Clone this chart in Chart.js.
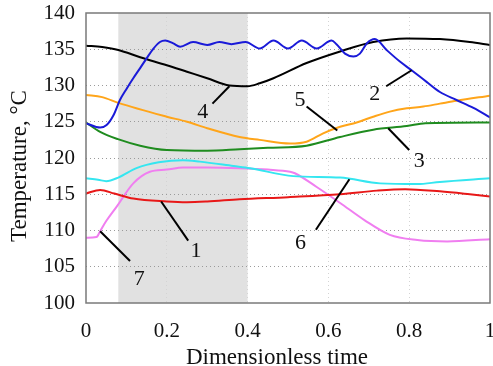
<!DOCTYPE html>
<html><head><meta charset="utf-8">
<script src="https://cdn.jsdelivr.net/npm/chart.js@4/dist/chart.umd.min.js"></script>
<style>html,body{margin:0;padding:0;background:#fff}#wrap{width:493px;height:366px}</style>
</head><body><div id="wrap"><canvas id="c" width="493" height="366"></canvas></div>
<script>
// ---- data ----
const xTicks = [0, 0.2, 0.4, 0.6, 0.8, 1];
const xTickLabels = ["0", "0.2", "0.4", "0.6", "0.8", "1"];
const yTicks = [100, 105, 110, 115, 120, 125, 130, 135, 140];
const shadeRange = [0.08, 0.4];

const c1T = [0, 0.035, 0.07, 0.117, 0.2, 0.25, 0.3, 0.38, 0.5, 0.629, 0.72, 0.79, 0.876, 0.95, 1];
const c1Y = [115.1, 115.6, 115.1, 114.4, 114.0, 113.9, 114.0, 114.3, 114.6, 115.0, 115.5, 115.7, 115.4, 115.0, 114.7];

const c2T = [0, 0.035, 0.051, 0.068, 0.084, 0.101, 0.117, 0.134, 0.15, 0.167, 0.183, 0.196, 0.216, 0.233, 0.265, 0.30, 0.33, 0.36, 0.395, 0.43, 0.464, 0.50, 0.534, 0.571, 0.608, 0.62, 0.641, 0.662, 0.678, 0.695, 0.715, 0.744, 0.777, 0.806, 0.843, 0.876, 0.917, 0.959, 1];
const c2Y = [124.8, 124.2, 124.55, 125.9, 128.0, 129.6, 131.0, 132.4, 133.75, 135.1, 136.0, 136.2, 135.8, 135.35, 136.0, 135.6, 136.0, 135.7, 136.0, 135.1, 136.2, 135.1, 136.2, 135.1, 136.2, 135.7, 134.4, 134.0, 134.4, 135.8, 136.4, 134.9, 133.3, 132.1, 130.5, 129.1, 128.0, 126.9, 125.6];

const c3T = [0, 0.035, 0.079, 0.134, 0.2, 0.3, 0.38, 0.45, 0.546, 0.629, 0.711, 0.794, 0.84, 1];
const c3Y = [124.9, 123.6, 122.6, 121.7, 121.1, 121.0, 121.2, 121.4, 121.7, 122.9, 123.9, 124.4, 124.8, 124.9];

const c4T = [0, 0.04, 0.08, 0.134, 0.2, 0.25, 0.3, 0.355, 0.40, 0.43, 0.464, 0.546, 0.629, 0.711, 0.794, 0.876, 0.95, 1];
const c4Y = [135.5, 135.3, 134.9, 133.9, 132.8, 131.9, 131.0, 130.0, 129.9, 130.3, 131.0, 133.1, 134.7, 136.0, 136.5, 136.4, 136.0, 135.6];

const c5T = [0, 0.04, 0.08, 0.2, 0.25, 0.3, 0.38, 0.43, 0.505, 0.546, 0.587, 0.629, 0.67, 0.711, 0.752, 0.794, 0.835, 0.876, 0.917, 1];
const c5Y = [128.7, 128.4, 127.6, 125.7, 125.0, 124.1, 122.9, 122.5, 122.0, 122.25, 123.4, 124.3, 124.9, 125.7, 126.4, 126.85, 127.1, 127.5, 127.9, 128.6];

const c6T = [0, 0.03, 0.05, 0.08, 0.125, 0.18, 0.24, 0.282, 0.365, 0.406, 0.513, 0.629, 0.728, 0.82, 0.876, 1];
const c6Y = [117.2, 117.0, 116.8, 117.3, 118.6, 119.4, 119.7, 119.5, 118.9, 118.6, 117.5, 117.3, 116.5, 116.4, 116.7, 117.2];

const c7T = [0, 0.026, 0.035, 0.05, 0.076, 0.117, 0.158, 0.2, 0.24, 0.3, 0.38, 0.45, 0.505, 0.517, 0.571, 0.629, 0.69, 0.752, 0.82, 0.894, 1];
const c7Y = [109.0, 109.1, 109.9, 111.3, 113.3, 116.5, 118.1, 118.4, 118.7, 118.7, 118.6, 118.4, 118.1, 117.9, 116.0, 113.8, 111.4, 109.4, 108.7, 108.5, 108.8];

// curve number labels and their leader lines (data coordinates)
const labelNames = ["1", "2", "3", "4", "5", "6", "7"];
const labelLineFrom = [[0.186, 114.0], [0.806, 132.1], [0.748, 124.1], [0.355, 129.9], [0.546, 127.1], [0.652, 117.06], [0.035, 109.9]];
const labelLineTo = [[0.253, 108.6], [0.743, 129.9], [0.80, 121.1], [0.313, 127.5], [0.622, 123.8], [0.569, 110.1], [0.109, 105.8]];
const labelTextAt = [[0.272, 107.1], [0.715, 128.8], [0.825, 119.5], [0.289, 126.25], [0.53, 128.0], [0.531, 108.3], [0.132, 103.3]];

const xTitle = "Dimensionless time";
const yTitle = "Temperature, \u00B0C";

// ---- build ----
function pts(t, y) { return t.map((v, i) => ({ x: v, y: y[i] })); }
const series = [
  { T: c1T, Y: c1Y, color: "#e81818" },
  { T: c2T, Y: c2Y, color: "#1a1ad8" },
  { T: c3T, Y: c3Y, color: "#1f8c1f" },
  { T: c4T, Y: c4Y, color: "#000000" },
  { T: c5T, Y: c5Y, color: "#ffa51a" },
  { T: c6T, Y: c6Y, color: "#35e6f0" },
  { T: c7T, Y: c7Y, color: "#f07ef0" }
];
const FONT = '"Liberation Serif", "Times New Roman", serif';

const deco = {
  id: "deco",
  beforeDraw(chart) {
    const { ctx, chartArea: a, scales: { x } } = chart;
    ctx.save();
    ctx.fillStyle = "#e1e1e1";
    const x0 = x.getPixelForValue(shadeRange[0]), x1 = x.getPixelForValue(shadeRange[1]);
    ctx.fillRect(x0, a.top, x1 - x0, a.bottom - a.top);
    ctx.restore();
  },
  afterDraw(chart) {
    const { ctx, chartArea: a, scales: { x, y } } = chart;
    ctx.save();
    // frame
    ctx.strokeStyle = "#7a7a7a";
    ctx.lineWidth = 1.5;
    ctx.strokeRect(a.left, a.top, a.right - a.left, a.bottom - a.top);
    // tick labels
    ctx.fillStyle = "#111";
    ctx.font = "21px " + FONT;
    ctx.textBaseline = "middle";
    ctx.textAlign = "right";
    yTicks.forEach(v => ctx.fillText(String(v), a.left - 11, y.getPixelForValue(v)));
    ctx.textAlign = "center";
    xTicks.forEach((v, i) => ctx.fillText(xTickLabels[i], x.getPixelForValue(v), a.bottom + 28));
    // titles
    ctx.font = "23px " + FONT;
    ctx.textBaseline = "alphabetic";
    ctx.fillText(xTitle, 277, 364);
    ctx.save();
    ctx.translate(26, 166);
    ctx.rotate(-Math.PI / 2);
    ctx.fillText(yTitle, 0, 0);
    ctx.restore();
    // curve labels
    ctx.strokeStyle = "#000";
    ctx.lineWidth = 2;
    ctx.font = "22px " + FONT;
    ctx.textBaseline = "middle";
    ctx.textAlign = "center";
    labelNames.forEach((n, i) => {
      ctx.beginPath();
      ctx.moveTo(x.getPixelForValue(labelLineFrom[i][0]), y.getPixelForValue(labelLineFrom[i][1]));
      ctx.lineTo(x.getPixelForValue(labelLineTo[i][0]), y.getPixelForValue(labelLineTo[i][1]));
      ctx.stroke();
      ctx.fillText(n, x.getPixelForValue(labelTextAt[i][0]), y.getPixelForValue(labelTextAt[i][1]));
    });
    ctx.restore();
  }
};

new Chart(document.getElementById("c"), {
  type: "line",
  data: {
    datasets: series.map(s => ({
      data: pts(s.T, s.Y),
      borderColor: s.color,
      borderWidth: 2,
      pointRadius: 0,
      fill: false,
      cubicInterpolationMode: "monotone"
    }))
  },
  options: {
    responsive: false,
    animation: false,
    events: [],
    layout: { padding: { left: 86, right: 3, top: 13, bottom: 63 } },
    plugins: { legend: { display: false }, tooltip: { enabled: false } },
    scales: {
      x: {
        type: "linear", min: 0, max: 1,
        ticks: { display: false, stepSize: 0.2 },
        grid: {
          drawTicks: false, tickLength: 0, lineWidth: 1,
          color: c => (c.tick && (c.tick.value <= 0 || c.tick.value >= 1)) ? "rgba(0,0,0,0)" : "#d4d4d4"
        },
        border: { display: false, dash: [1, 3] }
      },
      y: {
        type: "linear", min: 100, max: 140,
        ticks: { display: false, stepSize: 5 },
        grid: {
          drawTicks: false, tickLength: 0, lineWidth: 1,
          color: c => (c.tick && (c.tick.value <= 100 || c.tick.value >= 140)) ? "rgba(0,0,0,0)" : "#9a9a9a"
        },
        border: { display: false, dash: [1, 3] }
      }
    }
  },
  plugins: [deco]
});
</script>
</body></html>
